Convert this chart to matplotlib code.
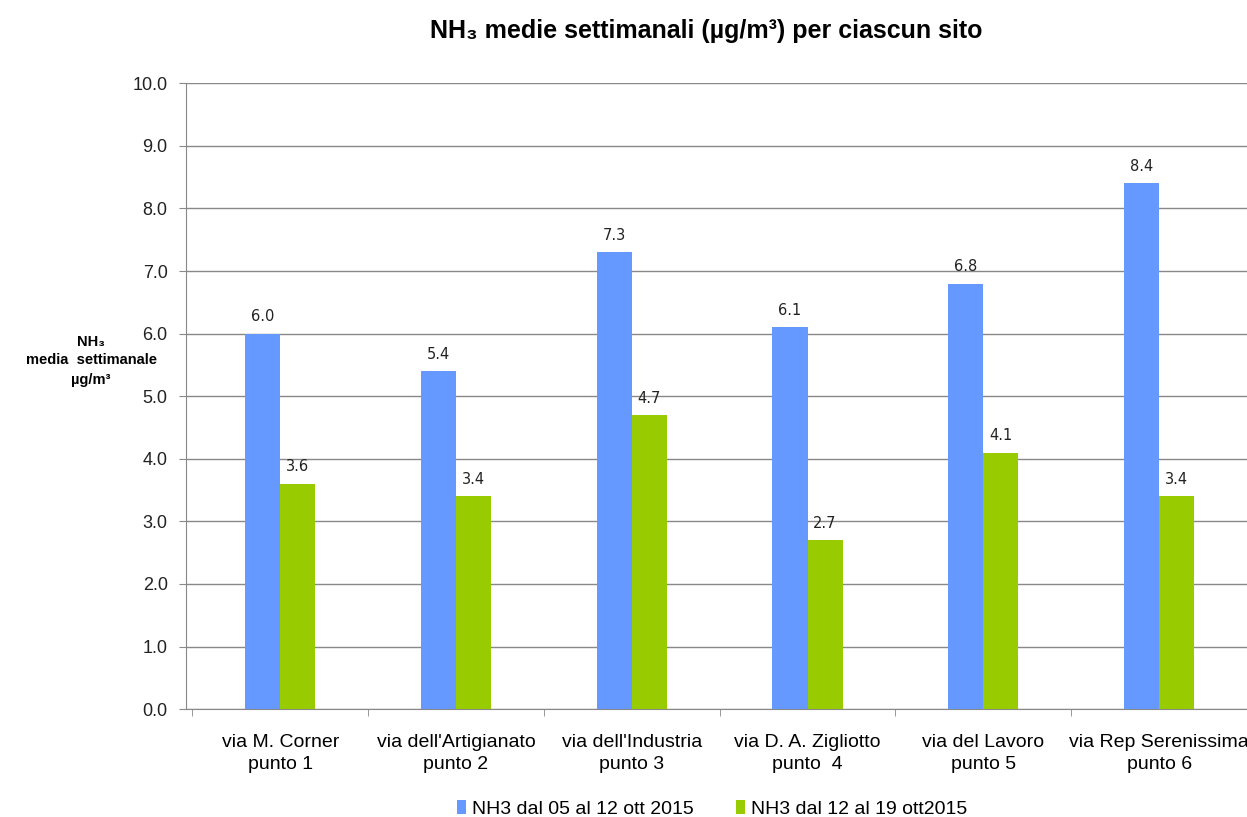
import numpy as np
import matplotlib.pyplot as plt

plt.rcParams['font.family'] = ['Liberation Sans', 'DejaVu Sans']

sites = ["via M. Corner\npunto 1", "via dell'Artigianato\npunto 2", "via dell'Industria\npunto 3",
         "via D. A. Zigliotto\npunto  4", "via del Lavoro\npunto 5", "via Rep Serenissima\npunto 6"]
week1 = [6.0, 5.4, 7.3, 6.1, 6.8, 8.4]
week2 = [3.6, 3.4, 4.7, 2.7, 4.1, 3.4]
labels = ["NH3 dal 05 al 12 ott 2015", "NH3 dal 12 al 19 ott2015"]

fig = plt.figure(figsize=(12.47, 8.17), dpi=100)
ax = fig.add_axes([0.149, 0.132, 0.851, 0.766])

x = np.arange(len(sites))
w = 0.2
b1 = ax.bar(x - w/2, week1, w, color='#6699FF', label=labels[0], zorder=3)
b2 = ax.bar(x + w/2, week2, w, color='#99CC00', label=labels[1], zorder=3)
for bars in (b1, b2):
    for r in bars:
        ax.text(r.get_x() + r.get_width()/2, r.get_height() + 0.15, '%.1f' % r.get_height(),
                ha='center', va='bottom', fontsize=10.5, family='DejaVu Sans', color='#222222')

ax.set_ylim(0, 10)
ax.set_yticks(np.arange(0, 10.1, 1))
ax.set_yticklabels(['%.1f' % v for v in np.arange(0, 10.1, 1)], fontsize=13, color='#222222')
ax.set_xlim(-0.537, 5.46)
ax.set_xticks(x)
ax.set_xticklabels(sites, fontsize=14, linespacing=1.35)
ax.set_xticks(np.arange(-0.5, 6, 1), minor=True)
ax.tick_params(axis='x', which='major', length=0, pad=18)
ax.tick_params(axis='x', which='minor', length=5, color='#888888')
ax.tick_params(axis='y', length=5, color='#888888', pad=8)
ax.grid(axis='y', color='#888888', linewidth=1, zorder=0)
for s in ['top', 'right']:
    ax.spines[s].set_visible(False)
ax.spines['left'].set_color('#888888')
ax.spines['bottom'].set_color('#888888')

fig.text(0.566, 0.962, "NH₃ medie settimanali (µg/m³) per ciascun sito", ha='center', va='center',
         fontsize=18, fontweight='bold')
# y-axis caption, one text per line
for txt, yy in [("NH₃", 0.582), ("media  settimanale", 0.559), ("µg/m³", 0.535)]:
    fig.text(0.073, yy, txt, ha='center', va='center', fontsize=10.5, fontweight='bold')

fig.legend(loc='center', bbox_to_anchor=(0.571, 0.01), ncol=2, frameon=False, fontsize=14,
           handlelength=0.45, handleheight=0.7, handletextpad=0.3, columnspacing=2.2)

fig.savefig('out.png', dpi=100)
